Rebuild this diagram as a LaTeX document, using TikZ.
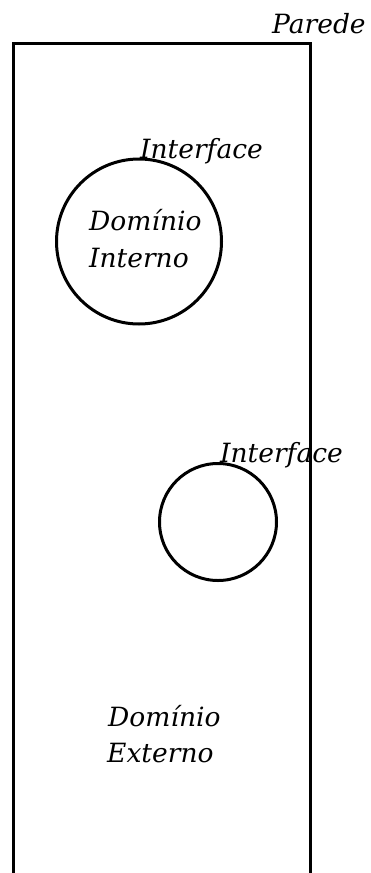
\documentclass[tikz,border=0pt]{standalone}
\usepackage{fontspec}
\setmainfont{DejaVu Serif}
\begin{document}
\begin{tikzpicture}[x=1pt,y=-1pt,
  wall/.style={line width=3pt, line join=miter},
  bubble/.style={circle, draw, line width=3pt, inner sep=0pt},
  lbl/.style={anchor=base west, inner sep=0pt, font=\fontsize{26.5}{37}\selectfont\itshape, align=left}]
\useasboundingbox (0,0) rectangle (371,873);
\coordinate (bl) at (13.5,873);
\coordinate (tl) at (13.5,43);
\coordinate (tr) at (310,43);
\coordinate (br) at (310,873);
\draw[wall] (bl) -- (tl) -- (tr) -- (br);
\node[bubble, minimum size=165pt] (c1) at (139,241.5) {};
\node[bubble, minimum size=117pt] (c2) at (218,522) {};
\node[lbl] (parede) at (272,33) {Parede};
\node[lbl] (if1) at (140,158) {Interface};
\node[lbl] (if2) at (220,462) {Interface};
\node[lbl] (di1) at (89,230) {Domínio};
\node[lbl] (di2) at (89,267) {Interno};
\node[lbl] (de1) at (108,726) {Domínio};
\node[lbl] (de2) at (107,762) {Externo};
\end{tikzpicture}
\end{document}
